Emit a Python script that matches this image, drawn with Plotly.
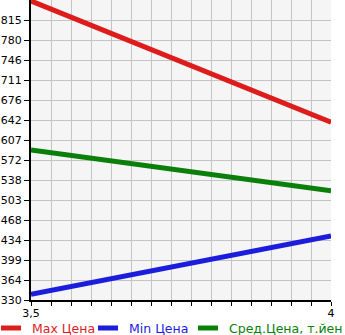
import plotly.graph_objects as go

x_vals = [3.5, 4.0]
max_price = [848, 638]
min_price = [340, 441]
avg_price = [590, 519]

y_tickvals = [330 + k * (815 - 330) / 14 for k in range(15)]
y_ticktext = ["330", "364", "399", "434", "468", "503", "538", "572", "607",
              "642", "676", "711", "746", "780", "815"]
x_tickvals = [3.5, 4.0]
x_ticktext = ["3,5", "4"]

series_names = ["Max Цена", "Min Цена", "Сред.Цена, т.йен"]
series_colors = ["#dd1c1c", "#1c1cdd", "#0a800a"]
series_values = [max_price, min_price, avg_price]

W, H = 345, 335
ML, MR, MT, MB = 31, 14, 0, 35
PW, PH = W - ML - MR, H - MT - MB

fig = go.Figure()
for name, color, vals in zip(series_names, series_colors, series_values):
    fig.add_trace(go.Scatter(x=x_vals, y=vals, mode="lines", name=name,
                             line=dict(color=color, width=5), showlegend=False))

# Legend row drawn in paper space below the plot
legend_starts = [0, 97, 197]      # pixel x of each legend swatch
legend_y = 328                      # pixel y of legend row centre
shapes, annotations = [], []
for name, color, sx in zip(series_names, series_colors, legend_starts):
    py = (H - MB - legend_y) / PH
    shapes.append(dict(type="line", xref="paper", yref="paper",
                       x0=(sx + 1 - ML) / PW, x1=(sx + 21 - ML) / PW, y0=py, y1=py,
                       line=dict(color=color, width=5)))
    annotations.append(dict(xref="paper", yref="paper", x=(sx + 30 - ML) / PW, y=py,
                            xanchor="left", yanchor="middle", showarrow=False,
                            text=name, font=dict(color=color, size=12.5)))

step = (815 - 330) / 14
fig.update_layout(
    width=W, height=H,
    margin=dict(l=ML, r=MR, t=MT, b=MB),
    paper_bgcolor="white",
    plot_bgcolor="#f5f5f5",
    font=dict(family="DejaVu Sans", size=11, color="black"),
    showlegend=False,
    shapes=shapes,
    annotations=annotations,
    xaxis=dict(range=[3.5, 4.0], tickvals=x_tickvals, ticktext=x_ticktext,
               showgrid=False, zeroline=False,
               showline=True, linecolor="black", linewidth=2,
               ticks="outside", ticklen=4, tickcolor="black", ticklabelstandoff=-2,
               minor=dict(dtick=0.5 / 15, ticks="outside", ticklen=4, tickcolor="black",
                          showgrid=True, gridcolor="#c4c4c4", gridwidth=1)),
    yaxis=dict(range=[330, 815 + step], tickvals=y_tickvals, ticktext=y_ticktext,
               showgrid=True, gridcolor="#c4c4c4", gridwidth=1, zeroline=False,
               showline=True, linecolor="black", linewidth=2,
               ticks="outside", ticklen=5, tickcolor="black"),
)

fig.write_html("out.html")
